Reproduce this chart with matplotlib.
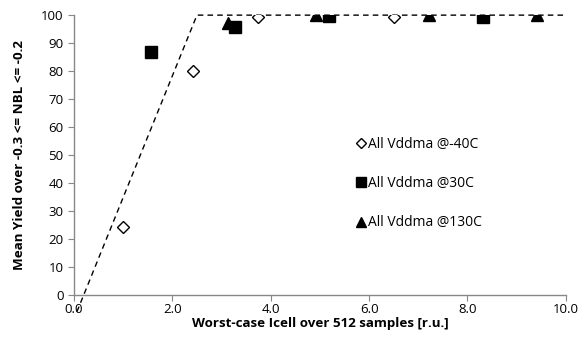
import matplotlib
matplotlib.use("Agg")
import matplotlib.pyplot as plt
from matplotlib.lines import Line2D

plt.rcParams['font.family'] = ['Open Sans', 'DejaVu Sans']

# Data
x_m40 = [1.0, 2.42, 3.74, 6.5]
y_m40 = [24.3, 80.0, 99.5, 99.5]
x_30 = [1.57, 3.27, 5.18, 8.31]
y_30 = [86.8, 95.7, 99.6, 99.2]
x_130 = [3.13, 4.92, 7.22, 9.41]
y_130 = [97.3, 100.0, 100.0, 100.0]
trend_x = [0.06, 2.5, 10.0]
trend_y = [-6.0, 100.0, 100.0]

labels = ["All Vddma @-40C", "All Vddma @30C", "All Vddma @130C"]

fig = plt.figure(figsize=(5.87, 3.52), dpi=100)
ax = fig.add_axes([0.126, 0.162, 0.838, 0.795])

ax.plot(trend_x, trend_y, color='black', linestyle=(0, (4, 3)), linewidth=1.0,
        clip_on=False, zorder=2)
ax.plot(x_m40, y_m40, linestyle='none', marker='D', markersize=6.5,
        markerfacecolor='white', markeredgecolor='black', markeredgewidth=1.0, zorder=3)
ax.plot(x_30, y_30, linestyle='none', marker='s', markersize=8.5,
        color='black', zorder=3)
ax.plot(x_130, y_130, linestyle='none', marker='^', markersize=9,
        color='black', zorder=3)

ax.set_xlim(0, 10)
ax.set_ylim(0, 100)
ax.set_xticks([0, 2, 4, 6, 8, 10])
ax.set_xticklabels(["0.0", "2.0", "4.0", "6.0", "8.0", "10.0"])
ax.set_yticks(range(0, 101, 10))

for s in ['top', 'right']:
    ax.spines[s].set_visible(False)
for s in ['left', 'bottom']:
    ax.spines[s].set_color('#888888')
    ax.spines[s].set_linewidth(1.0)
ax.tick_params(axis='both', colors='#888888', labelcolor='black', labelsize=9.5,
               length=4, direction='out')
ax.tick_params(axis='x', pad=1.5)

ax.set_xlabel("Worst-case Icell over 512 samples [r.u.]", fontsize=9.6, fontweight='bold', labelpad=1)
ax.set_ylabel("Mean Yield over -0.3 <= NBL <= -0.2", fontsize=9.6, fontweight='bold', labelpad=11)

handles = [
    Line2D([], [], linestyle='none', marker='D', markersize=5, markerfacecolor='white',
           markeredgecolor='black'),
    Line2D([], [], linestyle='none', marker='s', markersize=7, color='black'),
    Line2D([], [], linestyle='none', marker='^', markersize=7, color='black'),
]
ax.legend(handles, labels, frameon=False, loc='upper left', bbox_to_anchor=(0.545, 0.61),
          fontsize=10, labelspacing=1.75, handletextpad=0.0, handlelength=1.0)

fig.savefig("out.png", dpi=100)
